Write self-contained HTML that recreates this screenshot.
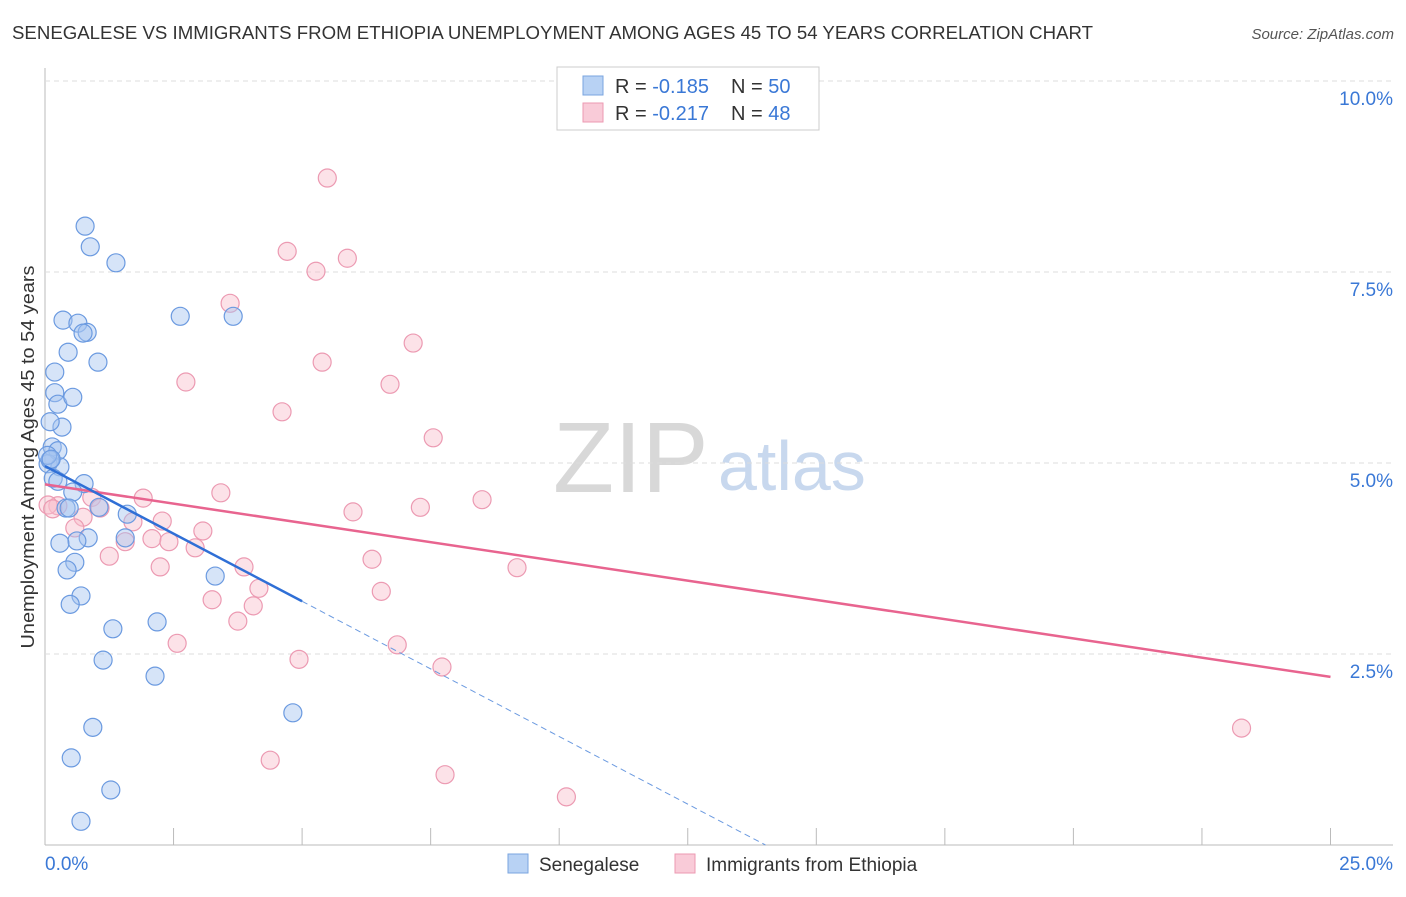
<!DOCTYPE html>
<html><head><meta charset="utf-8"><style>
body{margin:0;background:#fff;font-family:"Liberation Sans",sans-serif;}
svg text{font-family:"Liberation Sans",sans-serif;}
</style></head><body>
<svg id="chart" width="1406" height="892">
<text x="12" y="39" font-size="18" fill="#333" textLength="1081" lengthAdjust="spacingAndGlyphs">SENEGALESE VS IMMIGRANTS FROM ETHIOPIA UNEMPLOYMENT AMONG AGES 45 TO 54 YEARS CORRELATION CHART</text>
<text x="1394" y="39" font-size="15" fill="#555" font-style="italic" text-anchor="end">Source: ZipAtlas.com</text>
<text x="34" y="457" font-size="18" fill="#333" text-anchor="middle" textLength="383" lengthAdjust="spacingAndGlyphs" transform="rotate(-90 34 457)">Unemployment Among Ages 45 to 54 years</text>
<text x="553" y="492" font-size="100" fill="#d8d8d8" font-family="Liberation Serif">ZIP</text>
<text x="718" y="490" font-size="70" fill="#c8d8ee">atlas</text>
<g id="grid"></g><g id="marks"></g>
<g>
<rect x="557" y="67" width="262" height="63" fill="#fff" stroke="#ccc"/>
<rect x="583" y="76" width="20" height="19" fill="#b8d2f4" stroke="#7aa4df"/>
<rect x="583" y="103" width="20" height="19" fill="#f9cbd8" stroke="#ec9ab2"/>
<text x="615" y="93" font-size="20" fill="#333">R = <tspan fill="#3a78d6">-0.185</tspan></text>
<text x="731" y="93" font-size="20" fill="#333">N = <tspan fill="#3a78d6">50</tspan></text>
<text x="615" y="120" font-size="20" fill="#333">R = <tspan fill="#3a78d6">-0.217</tspan></text>
<text x="731" y="120" font-size="20" fill="#333">N = <tspan fill="#3a78d6">48</tspan></text>
</g>
<g>
<rect x="508" y="854" width="20" height="19" fill="#b8d2f4" stroke="#7aa4df"/>
<text x="539" y="871" font-size="19" fill="#333">Senegalese</text>
<rect x="675" y="854" width="20" height="19" fill="#f9cbd8" stroke="#ec9ab2"/>
<text x="706" y="871" font-size="19" fill="#333">Immigrants from Ethiopia</text>
</g>
</svg>
<script>
const yTicks=[2.5,5.0,7.5,10.0];
const yTickLabels=["2.5%","5.0%","7.5%","10.0%"];
const xTicks=[0,2.5,5,7.5,10,12.5,15,17.5,20,22.5,25];
const senX=[0.78,0.88,1.38,0.35,0.64,0.82,0.74,2.63,3.66,0.45,1.03,0.19,0.19,0.25,0.54,0.33,0.10,0.14,0.25,0.06,0.29,0.16,0.76,0.54,0.41,0.47,1.60,1.05,1.56,0.84,0.62,0.29,0.58,0.43,0.70,0.49,1.32,2.18,3.31,1.13,2.14,0.93,4.82,0.51,1.28,0.70,0.25,0.10,0.05,0.12];
const senY=[8.10,7.83,7.62,6.87,6.83,6.71,6.70,6.92,6.92,6.45,6.32,6.19,5.92,5.77,5.86,5.47,5.54,5.21,5.16,4.99,4.95,4.80,4.73,4.62,4.41,4.41,4.33,4.42,4.02,4.02,3.98,3.95,3.70,3.60,3.26,3.15,2.83,2.92,3.52,2.42,2.21,1.54,1.73,1.14,0.72,0.31,4.76,5.04,5.10,5.05];
const ethX=[5.49,4.71,5.27,5.88,3.60,5.39,7.16,2.74,6.71,4.61,7.55,3.42,1.91,0.91,8.50,7.30,5.99,1.07,0.74,1.71,2.28,0.58,3.07,1.56,2.08,2.41,2.92,1.25,3.87,2.24,6.36,9.18,4.16,3.25,4.05,6.54,3.75,2.57,6.85,4.94,7.72,4.38,7.78,10.14,23.27,0.25,0.06,0.15];
const ethY=[8.73,7.77,7.51,7.68,7.09,6.32,6.57,6.06,6.03,5.67,5.33,4.61,4.54,4.55,4.52,4.42,4.36,4.41,4.29,4.23,4.24,4.15,4.11,3.97,4.01,3.97,3.89,3.78,3.64,3.64,3.74,3.63,3.36,3.21,3.13,3.32,2.93,2.64,2.62,2.43,2.33,1.11,0.92,0.63,1.53,4.44,4.45,4.40];
const senTrend=[4.96,-0.354];
const ethTrend=[4.72,-0.1008];
const NS="http://www.w3.org/2000/svg";
const X=v=>45+v*51.42, Y=v=>845-v*76.4;
function mk(tag,attrs,parent){const e=document.createElementNS(NS,tag);for(const k in attrs)e.setAttribute(k,attrs[k]);parent.appendChild(e);return e;}
const grid=document.getElementById('grid'), marks=document.getElementById('marks');
let ax=mk('line',{x1:45,y1:68,x2:45,y2:845,stroke:'#bbb'},grid);


let bx=mk('line',{x1:45,y1:845,x2:1393,y2:845,stroke:'#bbb'},grid);


yTicks.forEach((t,i)=>{
 let g=mk('line',{x1:45,y1:Y(t),x2:1393,y2:Y(t),stroke:'#ddd','stroke-dasharray':'5,4'},grid);
 
 
 let l=mk('text',{x:1393,y:Y(t)+24,'font-size':19,fill:'#3a78d6','text-anchor':'end'},grid);l.textContent=yTickLabels[i];
 
 
});
xTicks.forEach(t=>{
 let k=mk('line',{x1:X(t),y1:828,x2:X(t),y2:845,stroke:'#bbb'},grid);
 
 
});
let xl0=mk('text',{x:45,y:870,'font-size':19,fill:'#3a78d6'},grid);xl0.textContent='0.0%';


let xl1=mk('text',{x:1393,y:870,'font-size':19,fill:'#3a78d6','text-anchor':'end'},grid);xl1.textContent='25.0%';


ethX.forEach((x,i)=>{
 let c=mk('circle',{cx:X(x),cy:Y(ethY[i]),r:9,fill:'rgba(248,190,205,0.45)',stroke:'#ec9ab2','stroke-width':1.2},marks);
 
 
});
senX.forEach((x,i)=>{
 let c=mk('circle',{cx:X(x),cy:Y(senY[i]),r:9,fill:'rgba(164,196,240,0.45)',stroke:'#6b9ae0','stroke-width':1.2},marks);
 
 
});
const f=(tr,x)=>tr[0]+tr[1]*x;
let t1=mk('line',{x1:X(0),y1:Y(f(ethTrend,0)),x2:X(25),y2:Y(f(ethTrend,25)),stroke:'#e8648f','stroke-width':2.5},marks);


let t2=mk('line',{x1:X(0),y1:Y(f(senTrend,0)),x2:X(5),y2:Y(f(senTrend,5)),stroke:'#2f6fd6','stroke-width':2.5},marks);


const xe=-senTrend[0]/senTrend[1];
let t3=mk('line',{x1:X(5),y1:Y(f(senTrend,5)),x2:X(xe),y2:Y(0),stroke:'#6b9ae0','stroke-width':1,'stroke-dasharray':'6,4'},marks);


</script>
</body></html>
